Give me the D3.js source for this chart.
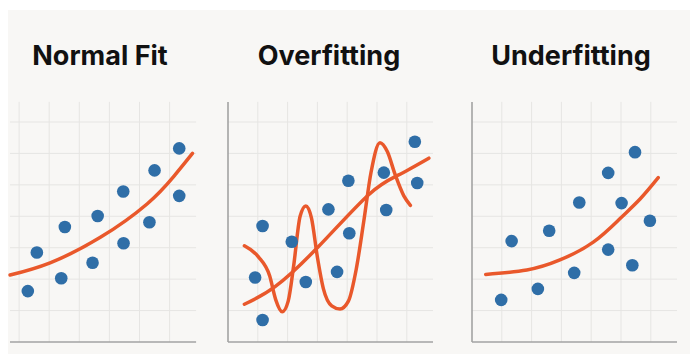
<!DOCTYPE html>
<html>
<head>
<meta charset="utf-8">
<script src="https://cdn.jsdelivr.net/npm/d3@7"></script>
<style>
  body { margin: 0; background: #fff; }
  svg { display: block; }
</style>
</head>
<body>
<div id="chart"></div>
<script>
// values in grid units (x: 0..6.9, y: 0..7.6)
const titles = ['Normal Fit', 'Overfitting', 'Underfitting'];

const normalPoints = [
  [1.29, 1.62], [1.59, 2.85], [2.40, 2.03], [2.52, 3.66], [3.44, 2.52], [3.61, 4.01],
  [4.46, 4.79], [4.47, 3.14], [5.33, 3.81], [5.50, 5.46], [6.32, 6.16], [6.32, 4.65]
];
const normalCurve = [[0.70, 2.13], [2.03, 2.52], [3.70, 3.33], [5.26, 4.40], [6.14, 5.27], [6.76, 6.00]];

const overPoints = [
  [0.91, 2.05], [1.16, 3.69], [1.16, 0.70], [2.14, 3.19], [2.61, 1.91], [3.37, 4.22], [3.66, 2.23],
  [4.04, 5.13], [4.07, 3.46], [5.23, 5.39], [5.31, 4.20], [6.27, 6.37], [6.35, 5.06]
];
const overTrend = [[0.55, 1.20], [1.58, 1.76], [3.03, 3.03], [4.71, 4.68], [5.71, 5.31], [6.74, 5.85]];
const overWiggle = [
  [0.55, 3.06], [1.02, 2.71], [1.40, 2.10], [1.60, 1.35], [1.82, 0.96], [2.02, 1.30], [2.20, 2.40],
  [2.42, 4.00], [2.61, 4.33], [2.80, 3.95], [3.00, 2.70], [3.20, 1.70], [3.48, 1.15], [3.76, 1.05],
  [4.04, 1.30], [4.30, 2.30], [4.55, 3.80], [4.80, 5.40], [5.10, 6.34], [5.35, 6.05], [5.60, 5.35],
  [5.90, 4.65], [6.12, 4.35]
];

const underPoints = [
  [0.98, 1.34], [1.33, 3.21], [2.21, 1.69], [2.59, 3.54], [3.43, 2.20], [3.60, 4.44],
  [4.57, 5.38], [4.57, 2.94], [5.02, 4.42], [5.38, 2.44], [5.47, 6.04], [5.97, 3.86]
];
const underCurve = [[0.46, 2.15], [1.84, 2.29], [2.95, 2.61], [4.07, 3.18], [4.97, 3.93], [5.64, 4.55], [6.25, 5.23]];

const panels = [
  { title: titles[0], points: normalPoints, curves: [normalCurve], x0: -11, step: 30.1, clipLeft: 10, yAxis: false, tx: 100 },
  { title: titles[1], points: overPoints, curves: [overWiggle, overTrend], x0: 228, step: 29.8, clipLeft: 228, yAxis: true, tx: 329 },
  { title: titles[2], points: underPoints, curves: [underCurve], x0: 472, step: 29.8, clipLeft: 472, yAxis: true, tx: 571 }
];

const width = 697, height = 354;
const blue = '#2f6ea7', orange = '#e9582b';

const svg = d3.select('#chart').append('svg')
  .attr('width', width)
  .attr('height', height);

svg.append('rect')
  .attr('x', 8).attr('y', 10)
  .attr('width', 682).attr('height', 344)
  .attr('fill', '#f8f7f5');

const y = d3.scaleLinear().domain([0, 7]).range([342, 122]);

panels.forEach((p, idx) => {
  const x = d3.scaleLinear().domain([0, 1]).range([p.x0, p.x0 + p.step]);
  const xMax = 6.88;
  const g = svg.append('g');

  svg.append('clipPath').attr('id', 'clip' + idx)
    .append('rect')
    .attr('x', p.clipLeft).attr('y', 90)
    .attr('width', x(xMax) - p.clipLeft + 10).attr('height', 260);

  const grid = g.append('g').attr('clip-path', `url(#clip${idx})`);

  grid.selectAll('line.v')
    .data(d3.range(1, 7))
    .join('line')
    .attr('class', 'v')
    .attr('x1', d => x(d)).attr('x2', d => x(d))
    .attr('y1', y(7.64)).attr('y2', y(0))
    .attr('stroke', '#e6e5e3').attr('stroke-width', 1);

  grid.selectAll('line.h')
    .data(d3.range(1, 8))
    .join('line')
    .attr('class', 'h')
    .attr('x1', Math.max(x(0), p.clipLeft)).attr('x2', x(xMax))
    .attr('y1', d => y(d)).attr('y2', d => y(d))
    .attr('stroke', '#e6e5e3').attr('stroke-width', 1);

  // axes
  g.append('line')
    .attr('x1', Math.max(x(0), p.clipLeft)).attr('x2', x(xMax))
    .attr('y1', y(0)).attr('y2', y(0))
    .attr('stroke', '#a3a3a3').attr('stroke-width', 1.6);
  if (p.yAxis) {
    g.append('line')
      .attr('x1', x(0)).attr('x2', x(0))
      .attr('y1', y(7.64)).attr('y2', y(0))
      .attr('stroke', '#a3a3a3').attr('stroke-width', 1.6);
  }

  const line = d3.line()
    .x(d => x(d[0]))
    .y(d => y(d[1]));

  g.selectAll('path.fit')
    .data(p.curves)
    .join('path')
    .attr('class', 'fit')
    .attr('d', d => line.curve(d === overWiggle ? d3.curveMonotoneX : d3.curveNatural)(d))
    .attr('fill', 'none')
    .attr('stroke', orange)
    .attr('stroke-width', 3.5)
    .attr('stroke-linecap', 'round');

  g.selectAll('circle')
    .data(p.points)
    .join('circle')
    .attr('cx', d => x(d[0]))
    .attr('cy', d => y(d[1]))
    .attr('r', 6.3)
    .attr('fill', blue);

  svg.append('text')
    .attr('x', p.tx)
    .attr('y', 64.5)
    .attr('text-anchor', 'middle')
    .attr('font-family', 'Inter, "Noto Sans", sans-serif')
    .attr('font-weight', 700)
    .attr('font-size', 27)
    .attr('fill', '#111')
    .text(p.title);
});
</script>
</body>
</html>
